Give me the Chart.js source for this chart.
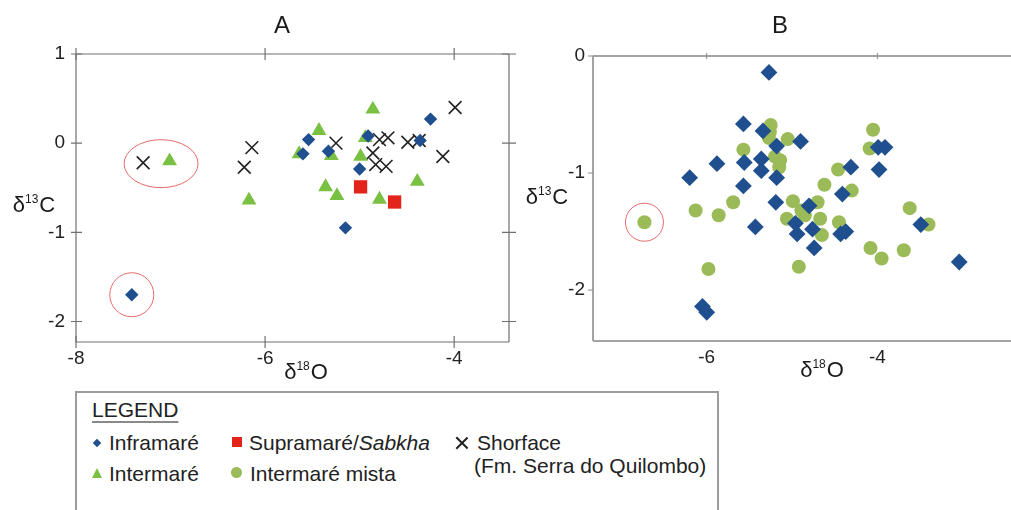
<!DOCTYPE html>
<html>
<head>
<meta charset="utf-8">
<script src="https://cdn.jsdelivr.net/npm/chart.js@4.4.1/dist/chart.umd.min.js"></script>
<style>
  body { margin: 0; background: #fff; width: 1011px; height: 510px; overflow: hidden; position: relative;
         font-family: "Liberation Sans", Arial, sans-serif; color: #222; }
  canvas { position: absolute; top: 0; }
  #chartA { left: 0; }
  #chartB { left: 520px; }
  .legend-box { position: absolute; left: 75px; top: 391px; width: 644px; height: 140px;
                border: 2px solid #9c9c9c; box-sizing: border-box; }
  .lbl { position: absolute; font-size: 21px; line-height: 24px; white-space: nowrap; color: #222; }
  .lbl i { font-style: italic; }
  .title { text-decoration: underline; text-decoration-color: #8a8a8a; text-decoration-thickness: 2px; text-underline-offset: 4px; }
  .mk { position: absolute; }
  .diamond { width: 6px; height: 6px; background: #1f4f8e; transform: rotate(45deg); }
  .square { width: 10px; height: 10px; background: #e3241b; }
  .tri { width: 0; height: 0; border-left: 5.5px solid transparent; border-right: 5.5px solid transparent; border-bottom: 10px solid #7ac143; }
  .dot { width: 11px; height: 11px; border-radius: 50%; background: #9bbb59; }
  .cross { width: 14px; height: 14px; }
  .cross:before, .cross:after { content: ""; position: absolute; left: 6px; top: -1px; width: 1.6px; height: 16px; background: #222; }
  .cross:before { transform: rotate(45deg); }
  .cross:after { transform: rotate(-45deg); }
</style>
</head>
<body>
<canvas id="chartA" width="520" height="390"></canvas>
<canvas id="chartB" width="491" height="390"></canvas>

<div class="legend-box"></div>
<div class="lbl title" style="left:92px; top:398px;">LEGEND</div>
<div class="mk diamond" style="left:94px; top:440px;"></div>
<div class="lbl" style="left:109px; top:431px;">Inframaré</div>
<div class="mk square" style="left:232px; top:437px;"></div>
<div class="lbl" style="left:249px; top:431px;">Supramaré/<i>Sabkha</i></div>
<div class="mk cross" style="left:455px; top:436px;"></div>
<div class="lbl" style="left:477px; top:431px;">Shorface</div>
<div class="mk tri" style="left:92px; top:468px;"></div>
<div class="lbl" style="left:109px; top:462px;">Intermaré</div>
<div class="mk dot" style="left:231px; top:467px;"></div>
<div class="lbl" style="left:250px; top:462px;">Intermaré mista</div>
<div class="lbl" style="left:474px; top:454px;">(Fm. Serra do Quilombo)</div>

<script>
const FONT = '"Liberation Sans", Arial, sans-serif';

// panel A axes
const xTicksA = [-8, -6, -4];
const yTicksA = [1, 0, -1, -2];
// panel B axes
const xTicksB = [-6, -4];
const yTicksB = [0, -1, -2];

// panel A - d18O (x) and d13C (y)
const infraAX = [-7.41, -5.54, -5.60, -5.33, -4.91, -5.00, -5.15, -4.36, -4.25];
const infraAY = [-1.70, 0.04, -0.12, -0.09, 0.08, -0.29, -0.95, 0.03, 0.27];

const interAX = [-7.01, -6.17, -5.64, -5.43, -5.30, -5.36, -5.24, -4.99, -4.94, -4.86, -4.79, -4.39];
const interAY = [-0.20, -0.64, -0.12, 0.14, -0.14, -0.49, -0.59, -0.15, 0.06, 0.38, -0.63, -0.43];

const supraAX = [-4.99, -4.63];
const supraAY = [-0.49, -0.66];

const shoreAX = [-7.29, -6.22, -6.14, -5.25, -4.86, -4.83, -4.72, -4.79, -4.70, -4.49, -4.37, -4.12, -3.99];
const shoreAY = [-0.22, -0.27, -0.05, 0.00, -0.11, -0.24, -0.26, 0.04, 0.06, 0.01, 0.03, -0.15, 0.40];

// panel B
const infraBX = [-5.27, -5.57, -5.34, -5.18, -4.90, -5.88, -6.20, -5.56, -5.36, -5.36,
                 -5.18, -5.57, -5.19, -5.43, -4.96, -4.94, -4.80, -4.76, -4.74, -4.43,
                 -4.37, -4.41, -4.31, -3.99, -3.91, -3.98, -3.49, -3.04, -6.05, -6.00];
const infraBY = [-0.14, -0.58, -0.64, -0.77, -0.73, -0.92, -1.04, -0.91, -0.88, -0.98,
                 -1.04, -1.11, -1.25, -1.46, -1.43, -1.52, -1.28, -1.48, -1.64, -1.52,
                 -1.50, -1.18, -0.95, -0.78, -0.78, -0.97, -1.44, -1.76, -2.14, -2.19];

const mistaBX = [-6.73, -6.13, -5.86, -5.69, -5.98, -5.57, -5.25, -5.26, -5.27, -5.05,
                 -5.20, -5.14, -5.15, -4.99, -4.89, -4.85, -5.06, -4.70, -4.67, -4.65,
                 -4.62, -4.46, -4.30, -4.45, -4.92, -4.05, -4.09, -4.08, -3.95, -3.69,
                 -3.62, -3.40];
const mistaBY = [-1.42, -1.32, -1.36, -1.25, -1.82, -0.80, -0.59, -0.65, -0.70, -0.71,
                 -0.86, -0.89, -0.95, -1.24, -1.32, -1.36, -1.39, -1.25, -1.39, -1.53,
                 -1.10, -0.97, -1.15, -1.42, -1.80, -0.63, -0.79, -1.64, -1.73, -1.66,
                 -1.30, -1.44];

function pts(xs, ys) {
  return xs.map((x, i) => ({ x: x, y: ys[i] }));
}

function axis(min, max, ticks, pad, fit) {
  return {
    type: 'linear',
    min: min,
    max: max,
    afterBuildTicks: s => { s.ticks = ticks.map(v => ({ value: v })); },
    afterFit: fit,
    grid: { display: false, drawTicks: false },
    border: { display: false },
    ticks: { color: '#222', padding: pad, font: { family: FONT, size: 19 }, callback: v => String(v) }
  };
}

// box round the plot area, with tick marks
const framePlugin = {
  id: 'frame',
  beforeDatasetsDraw(chart, args, o) {
    const { ctx, chartArea: a } = chart;
    const xs = chart.scales.x, ys = chart.scales.y;
    ctx.save();
    ctx.strokeStyle = o.color;
    ctx.lineWidth = o.width;
    ctx.beginPath();
    if (o.sides.includes('top')) { ctx.moveTo(a.left, a.top); ctx.lineTo(a.right, a.top); }
    if (o.sides.includes('bottom')) { ctx.moveTo(a.left, a.bottom); ctx.lineTo(a.right, a.bottom); }
    if (o.sides.includes('left')) { ctx.moveTo(a.left, a.top); ctx.lineTo(a.left, a.bottom); }
    if (o.sides.includes('right')) { ctx.moveTo(a.right, a.top); ctx.lineTo(a.right, a.bottom); }
    ctx.stroke();

    ctx.strokeStyle = o.tickColor;
    ctx.lineWidth = o.tickWidth;
    ctx.beginPath();
    o.marks.forEach(m => {
      if (m.side === 'left' || m.side === 'right') {
        const x0 = m.side === 'left' ? a.left : a.right;
        const dir = m.side === 'left' ? 1 : -1;
        ys.ticks.forEach(t => {
          const py = ys.getPixelForValue(t.value);
          ctx.moveTo(x0 - dir * m.out, py);
          ctx.lineTo(x0 + dir * m.in, py);
        });
      } else {
        const y0 = m.side === 'top' ? a.top : a.bottom;
        const dir = m.side === 'top' ? 1 : -1;
        xs.ticks.forEach(t => {
          const px = xs.getPixelForValue(t.value);
          ctx.moveTo(px, y0 - dir * m.out);
          ctx.lineTo(px, y0 + dir * m.in);
        });
      }
    });
    ctx.stroke();
    ctx.restore();
  }
};

// red rings round the outliers
const ringPlugin = {
  id: 'rings',
  afterDatasetsDraw(chart, args, o) {
    const { ctx } = chart;
    const xs = chart.scales.x, ys = chart.scales.y;
    ctx.save();
    ctx.strokeStyle = '#e46a6a';
    ctx.lineWidth = 1;
    o.list.forEach(r => {
      ctx.beginPath();
      ctx.ellipse(xs.getPixelForValue(r.x), ys.getPixelForValue(r.y), r.rx, r.ry, 0, 0, Math.PI * 2);
      ctx.stroke();
    });
    ctx.restore();
  }
};

function drawIso(ctx, mass, el, cx, cy) {
  const big = '22px ' + FONT, small = '12px ' + FONT;
  ctx.font = big;
  const wD = ctx.measureText('δ').width, wE = ctx.measureText(el).width;
  ctx.font = small;
  const wM = ctx.measureText(mass).width;
  let x = cx - (wD + wM + wE + 1) / 2;
  const base = cy + 8;
  ctx.textAlign = 'left';
  ctx.textBaseline = 'alphabetic';
  ctx.font = big; ctx.fillText('δ', x, base); x += wD;
  ctx.font = small; ctx.fillText(mass, x, base - 9); x += wM + 1;
  ctx.font = big; ctx.fillText(el, x, base);
}

// panel letter and axis titles
const textPlugin = {
  id: 'panelText',
  afterDraw(chart, args, o) {
    const ctx = chart.ctx;
    ctx.save();
    ctx.fillStyle = '#1a1a1a';
    ctx.font = '24px ' + FONT;
    ctx.textAlign = 'center';
    ctx.textBaseline = 'middle';
    ctx.fillText(o.panel, o.panelPos[0], o.panelPos[1]);
    drawIso(ctx, '13', 'C', o.yTitle[0], o.yTitle[1]);
    drawIso(ctx, '18', 'O', o.xTitle[0], o.xTitle[1]);
    ctx.restore();
  }
};

const chartA = new Chart(document.getElementById('chartA'), {
  type: 'scatter',
  data: {
    datasets: [
      { label: 'Inframaré', data: pts(infraAX, infraAY), pointStyle: 'rectRot', pointRadius: 6.7,
        backgroundColor: '#1f4f8e', borderWidth: 0 },
      { label: 'Intermaré', data: pts(interAX, interAY), pointStyle: 'triangle', pointRadius: 8.6,
        backgroundColor: '#7ac143', borderWidth: 0 },
      { label: 'Supramaré/Sabkha', data: pts(supraAX, supraAY), pointStyle: 'rect', pointRadius: 9.4,
        backgroundColor: '#e3241b', borderWidth: 0 },
      { label: 'Shorface', data: pts(shoreAX, shoreAY), pointStyle: 'crossRot', pointRadius: 9,
        borderColor: '#222', borderWidth: 1.6 }
    ]
  },
  options: {
    responsive: false,
    animation: false,
    layout: { autoPadding: false, padding: { top: 54, right: 11, left: 0, bottom: 0 } },
    scales: {
      x: axis(-8, -3.42, xTicksA, 5, s => { s.height = 48; }),
      y: axis(-2.23, 1, yTicksA, 11, s => { s.width = 76; })
    },
    plugins: {
      legend: { display: false },
      tooltip: { enabled: false },
      frame: {
        color: '#707070', width: 1.2, tickColor: '#707070', tickWidth: 1.2,
        sides: ['top', 'bottom', 'left', 'right'],
        marks: [
          { side: 'left', in: 6, out: 5 }, { side: 'right', in: 7, out: 7 },
          { side: 'top', in: 6, out: 6 }, { side: 'bottom', in: 6, out: 6 }
        ]
      },
      rings: { list: [ { x: -7.10, y: -0.23, rx: 37, ry: 24 }, { x: -7.41, y: -1.70, rx: 22, ry: 22 } ] },
      panelText: { panel: 'A', panelPos: [282, 26], yTitle: [34, 204], xTitle: [306, 371] }
    }
  },
  plugins: [framePlugin, ringPlugin, textPlugin]
});

const chartB = new Chart(document.getElementById('chartB'), {
  type: 'scatter',
  data: {
    datasets: [
      { label: 'Inframaré', data: pts(infraBX, infraBY), pointStyle: 'rectRot', pointRadius: 8.4,
        backgroundColor: '#1f4f8e', borderWidth: 0 },
      { label: 'Intermaré mista', data: pts(mistaBX, mistaBY), pointStyle: 'circle', pointRadius: 7,
        backgroundColor: '#9bbb59', borderWidth: 0 }
    ]
  },
  options: {
    responsive: false,
    animation: false,
    layout: { autoPadding: false, padding: { top: 56, right: 0, left: 0, bottom: 0 } },
    scales: {
      x: axis(-7.333, -2.433, xTicksB, 5, s => { s.height = 49; }),
      y: axis(-2.435, 0, yTicksB, 8, s => { s.width = 73; })
    },
    plugins: {
      legend: { display: false },
      tooltip: { enabled: false },
      frame: {
        color: '#a3a3a3', width: 2, tickColor: '#888', tickWidth: 1,
        sides: ['top', 'bottom', 'left'],
        marks: [ { side: 'left', in: 0, out: 5 }, { side: 'top', in: 3, out: 3 } ]
      },
      rings: { list: [ { x: -6.73, y: -1.42, rx: 19, ry: 19 } ] },
      panelText: { panel: 'B', panelPos: [260, 26], yTitle: [27, 196], xTitle: [302, 369] }
    }
  },
  plugins: [framePlugin, ringPlugin, textPlugin]
});
</script>
</body>
</html>
